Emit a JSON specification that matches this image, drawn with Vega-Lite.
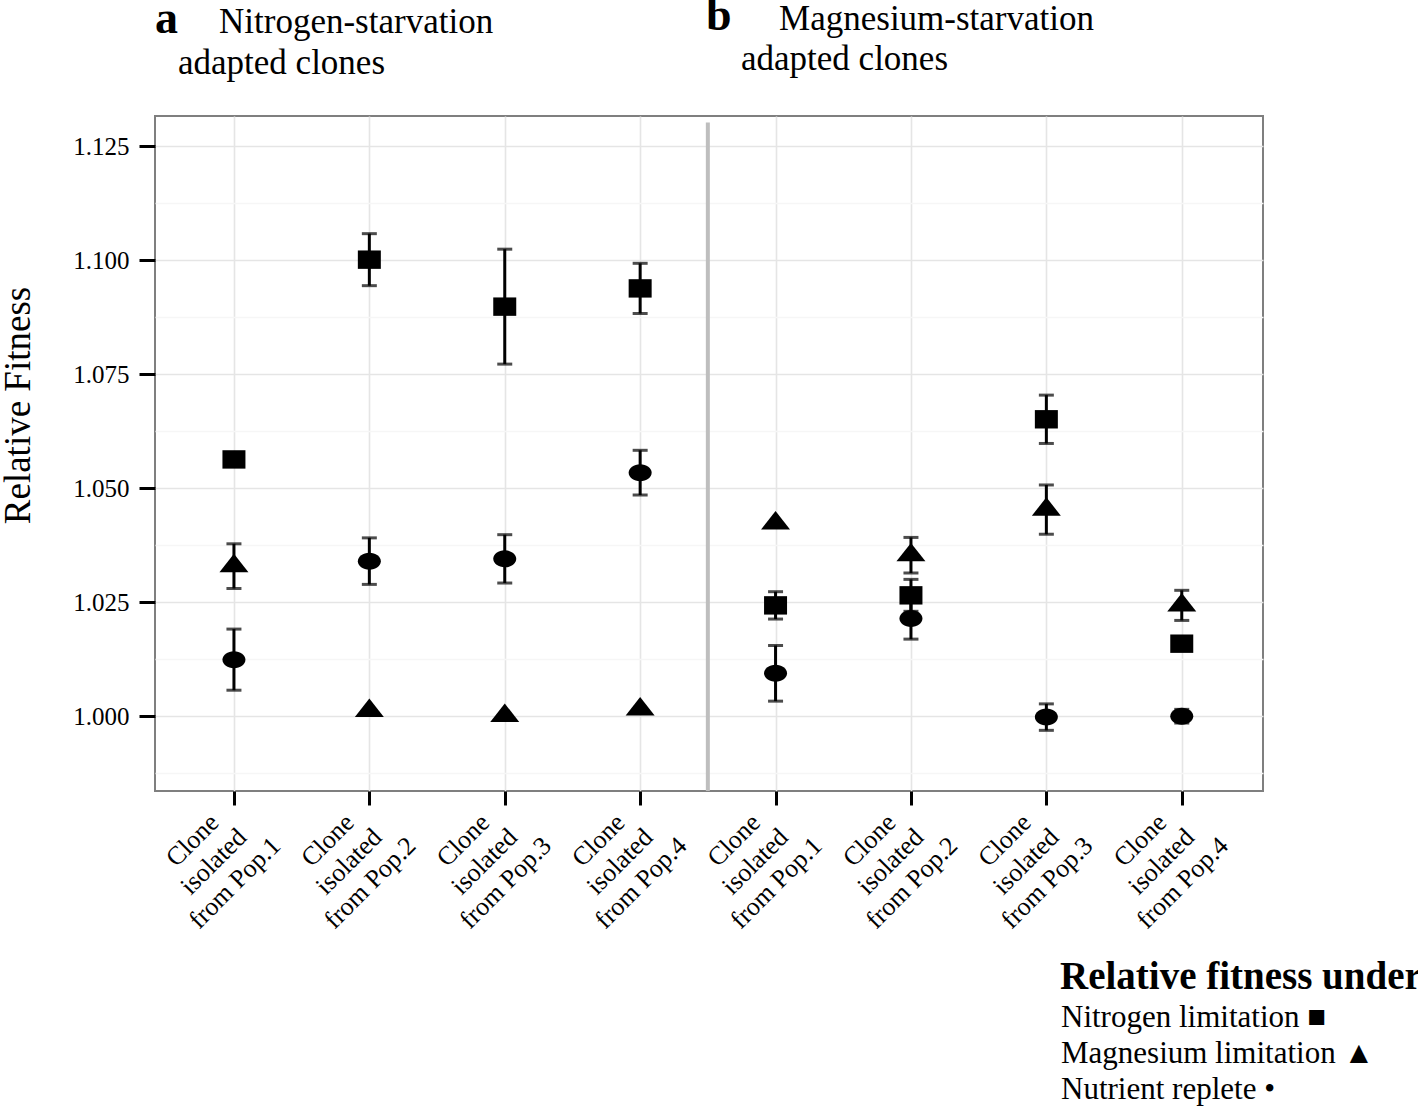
{
  "$schema": "https://vega.github.io/schema/vega-lite/v6.json",
  "autosize": {"type": "none"},
  "padding": {"left": 155, "top": 116, "right": 155, "bottom": 315},
  "width": 1108,
  "height": 675,
  "background": "white",
  "config": {
    "view": {"stroke": "#7f7f7f", "strokeWidth": 2},
    "font": "Liberation Serif",
    "axis": {
      "labelFont": "Liberation Serif",
      "labelColor": "black",
      "tickColor": "black",
      "domain": false
    }
  },
  "data": {
    "values": [
      {"clone": 1, "set": "Nitrogen-starvation adapted", "pop": 1, "condition": "Nitrogen limitation", "fitness": 1.0563, "lo": null, "hi": null},
      {"clone": 1, "set": "Nitrogen-starvation adapted", "pop": 1, "condition": "Magnesium limitation", "fitness": 1.0329, "lo": 1.0280, "hi": 1.0378},
      {"clone": 1, "set": "Nitrogen-starvation adapted", "pop": 1, "condition": "Nutrient replete", "fitness": 1.0124, "lo": 1.0057, "hi": 1.0191},
      {"clone": 2, "set": "Nitrogen-starvation adapted", "pop": 2, "condition": "Nitrogen limitation", "fitness": 1.1001, "lo": 1.0944, "hi": 1.1058},
      {"clone": 2, "set": "Nitrogen-starvation adapted", "pop": 2, "condition": "Magnesium limitation", "fitness": 1.0012, "lo": null, "hi": null},
      {"clone": 2, "set": "Nitrogen-starvation adapted", "pop": 2, "condition": "Nutrient replete", "fitness": 1.0340, "lo": 1.0289, "hi": 1.0391},
      {"clone": 3, "set": "Nitrogen-starvation adapted", "pop": 3, "condition": "Nitrogen limitation", "fitness": 1.0898, "lo": 1.0772, "hi": 1.1024},
      {"clone": 3, "set": "Nitrogen-starvation adapted", "pop": 3, "condition": "Magnesium limitation", "fitness": 1.0001, "lo": null, "hi": null},
      {"clone": 3, "set": "Nitrogen-starvation adapted", "pop": 3, "condition": "Nutrient replete", "fitness": 1.0345, "lo": 1.0292, "hi": 1.0398},
      {"clone": 4, "set": "Nitrogen-starvation adapted", "pop": 4, "condition": "Nitrogen limitation", "fitness": 1.0938, "lo": 1.0883, "hi": 1.0993},
      {"clone": 4, "set": "Nitrogen-starvation adapted", "pop": 4, "condition": "Magnesium limitation", "fitness": 1.0015, "lo": null, "hi": null},
      {"clone": 4, "set": "Nitrogen-starvation adapted", "pop": 4, "condition": "Nutrient replete", "fitness": 1.0534, "lo": 1.0485, "hi": 1.0583},
      {"clone": 5, "set": "Magnesium-starvation adapted", "pop": 1, "condition": "Nitrogen limitation", "fitness": 1.0243, "lo": 1.0213, "hi": 1.0273},
      {"clone": 5, "set": "Magnesium-starvation adapted", "pop": 1, "condition": "Magnesium limitation", "fitness": 1.0423, "lo": null, "hi": null},
      {"clone": 5, "set": "Magnesium-starvation adapted", "pop": 1, "condition": "Nutrient replete", "fitness": 1.0094, "lo": 1.0033, "hi": 1.0155},
      {"clone": 6, "set": "Magnesium-starvation adapted", "pop": 2, "condition": "Nitrogen limitation", "fitness": 1.0265, "lo": 1.0230, "hi": 1.0300},
      {"clone": 6, "set": "Magnesium-starvation adapted", "pop": 2, "condition": "Magnesium limitation", "fitness": 1.0353, "lo": 1.0314, "hi": 1.0392},
      {"clone": 6, "set": "Magnesium-starvation adapted", "pop": 2, "condition": "Nutrient replete", "fitness": 1.0214, "lo": 1.0169, "hi": 1.0259},
      {"clone": 7, "set": "Magnesium-starvation adapted", "pop": 3, "condition": "Nitrogen limitation", "fitness": 1.0651, "lo": 1.0598, "hi": 1.0704},
      {"clone": 7, "set": "Magnesium-starvation adapted", "pop": 3, "condition": "Magnesium limitation", "fitness": 1.0453, "lo": 1.0399, "hi": 1.0507},
      {"clone": 7, "set": "Magnesium-starvation adapted", "pop": 3, "condition": "Nutrient replete", "fitness": 0.9998, "lo": 0.9969, "hi": 1.0027},
      {"clone": 8, "set": "Magnesium-starvation adapted", "pop": 4, "condition": "Nitrogen limitation", "fitness": 1.0159, "lo": null, "hi": null},
      {"clone": 8, "set": "Magnesium-starvation adapted", "pop": 4, "condition": "Magnesium limitation", "fitness": 1.0243, "lo": 1.0210, "hi": 1.0276},
      {"clone": 8, "set": "Magnesium-starvation adapted", "pop": 4, "condition": "Nutrient replete", "fitness": 1.0000, "lo": 0.9985, "hi": 1.0015}
    ]
  },
  "layer": [
    {
      "data": {"values": [{}]},
      "mark": {"type": "rule", "color": "#bebebe", "strokeWidth": 4},
      "encoding": {
        "x": {"datum": 4.5, "type": "quantitative", "scale": {"domain": [0.417, 8.6], "nice": false, "zero": false}},
        "y": {"datum": 1.1302, "type": "quantitative", "scale": {"domain": [0.9836, 1.1316], "nice": false, "zero": false}, "title": "Relative Fitness"},
        "y2": {"datum": 0.9836}
      }
    },
    {
      "transform": [{"filter": "isValid(datum.lo)"}],
      "mark": {"type": "errorbar", "thickness": 3, "color": "black", "ticks": {"size": 15, "thickness": 3, "color": "black"}, "rule": {"strokeWidth": 3, "color": "black"}},
      "encoding": {
        "x": {"field": "clone", "type": "quantitative"},
        "y": {"field": "lo", "type": "quantitative", "title": "Relative Fitness"},
        "y2": {"field": "hi"}
      }
    },
    {
      "mark": {"type": "point", "filled": true, "opacity": 1, "color": "black", "strokeWidth": 0, "size": 529},
      "encoding": {
        "x": {
          "field": "clone", "type": "quantitative",
          "axis": {
            "title": null,
            "values": [1, 2, 3, 4, 5, 6, 7, 8],
            "grid": true, "gridColor": "#e5e5e5", "gridWidth": 1.6,
            "ticks": true, "tickSize": 14, "tickWidth": 3,
            "labelExpr": "['Clone', 'isolated', 'from Pop.' + (datum.value > 4 ? datum.value - 4 : datum.value)]",
            "labelFontSize": 26, "labelLineHeight": 30,
            "labelAngle": -45, "labelAlign": "center", "labelBaseline": "middle",
            "labelPadding": 35, "labelOffset": -42,
            "labelOverlap": false, "labelFlush": false, "labelBound": false
          }
        },
        "y": {
          "field": "fitness", "type": "quantitative",
          "title": "Relative Fitness",
          "axis": {
            "values": [0.9875, 1, 1.0125, 1.025, 1.0375, 1.05, 1.0625, 1.075, 1.0875, 1.1, 1.1125, 1.125],
            "grid": true,
            "gridColor": {"condition": {"test": "abs(datum.value*40 - round(datum.value*40)) < 0.01", "value": "#e5e5e5"}, "value": "#f6f6f6"},
            "gridWidth": 1.6,
            "tickSize": 16, "tickWidth": 3,
            "tickOpacity": {"condition": {"test": "abs(datum.value*40 - round(datum.value*40)) < 0.01", "value": 1}, "value": 0},
            "labelExpr": "abs(datum.value*40 - round(datum.value*40)) < 0.01 ? format(datum.value, '.3f') : ''",
            "labelFontSize": 25, "labelPadding": 10,
            "titleFont": "Liberation Serif", "titleFontSize": 37, "titleFontWeight": "normal", "titleColor": "black",
            "titleAngle": 270, "titleBaseline": "alphabetic", "titleAlign": "center",
            "titleX": -126, "titleY": 289
          }
        },
        "shape": {
          "field": "condition", "type": "nominal",
          "scale": {
            "domain": ["Nitrogen limitation", "Magnesium limitation", "Nutrient replete"],
            "range": [
              "M-1,-0.8L1,-0.8L1,0.8L-1,0.8Z",
              "M0,-1.07L1.26,0.535L-1.26,0.535Z",
              "M-1,0C-1,-0.41 -0.55,-0.74 0,-0.74C0.55,-0.74 1,-0.41 1,0C1,0.41 0.55,0.74 0,0.74C-0.55,0.74 -1,0.41 -1,0Z"
            ]
          },
          "legend": {
            "orient": "none", "legendX": 905, "legendY": 842,
            "title": "Relative fitness under",
            "titleFont": "Liberation Serif", "titleFontSize": 39, "titleFontWeight": "bold", "titleColor": "black",
            "titleLimit": 2000, "titlePadding": 5,
            "labelFont": "Liberation Serif", "labelFontSize": 31, "labelColor": "black", "labelLimit": 2000,
            "labelExpr": "datum.label == 'Nitrogen limitation' ? 'Nitrogen limitation ■' : datum.label == 'Magnesium limitation' ? 'Magnesium limitation ▲' : 'Nutrient replete •'",
            "symbolSize": 0, "symbolOpacity": 0, "symbolStrokeWidth": 0, "labelOffset": -30, "rowPadding": 4
          }
        }
      }
    },
    {
      "data": {"values": [{}]},
      "mark": {"type": "text", "text": "a", "font": "Liberation Serif", "fontSize": 46, "fontWeight": "bold", "align": "left", "baseline": "alphabetic", "color": "black"},
      "encoding": {"x": {"datum": 0.417, "type": "quantitative"}, "y": {"datum": 1.1498, "type": "quantitative", "title": "Relative Fitness"}}
    },
    {
      "data": {"values": [{}]},
      "mark": {"type": "text", "text": "Nitrogen-starvation", "font": "Liberation Serif", "fontSize": 35, "align": "left", "baseline": "alphabetic", "color": "black"},
      "encoding": {"x": {"datum": 0.89, "type": "quantitative"}, "y": {"datum": 1.1498, "type": "quantitative", "title": "Relative Fitness"}}
    },
    {
      "data": {"values": [{}]},
      "mark": {"type": "text", "text": "adapted clones", "font": "Liberation Serif", "fontSize": 35, "align": "left", "baseline": "alphabetic", "color": "black"},
      "encoding": {"x": {"datum": 0.587, "type": "quantitative"}, "y": {"datum": 1.1408, "type": "quantitative", "title": "Relative Fitness"}}
    },
    {
      "data": {"values": [{}]},
      "mark": {"type": "text", "text": "b", "font": "Liberation Serif", "fontSize": 46, "fontWeight": "bold", "align": "left", "baseline": "alphabetic", "color": "black"},
      "encoding": {"x": {"datum": 4.486, "type": "quantitative"}, "y": {"datum": 1.1504, "type": "quantitative", "title": "Relative Fitness"}}
    },
    {
      "data": {"values": [{}]},
      "mark": {"type": "text", "text": "Magnesium-starvation", "font": "Liberation Serif", "fontSize": 35, "align": "left", "baseline": "alphabetic", "color": "black"},
      "encoding": {"x": {"datum": 5.026, "type": "quantitative"}, "y": {"datum": 1.1504, "type": "quantitative", "title": "Relative Fitness"}}
    },
    {
      "data": {"values": [{}]},
      "mark": {"type": "text", "text": "adapted clones", "font": "Liberation Serif", "fontSize": 35, "align": "left", "baseline": "alphabetic", "color": "black"},
      "encoding": {"x": {"datum": 4.745, "type": "quantitative"}, "y": {"datum": 1.1417, "type": "quantitative", "title": "Relative Fitness"}}
    }
  ]
}
